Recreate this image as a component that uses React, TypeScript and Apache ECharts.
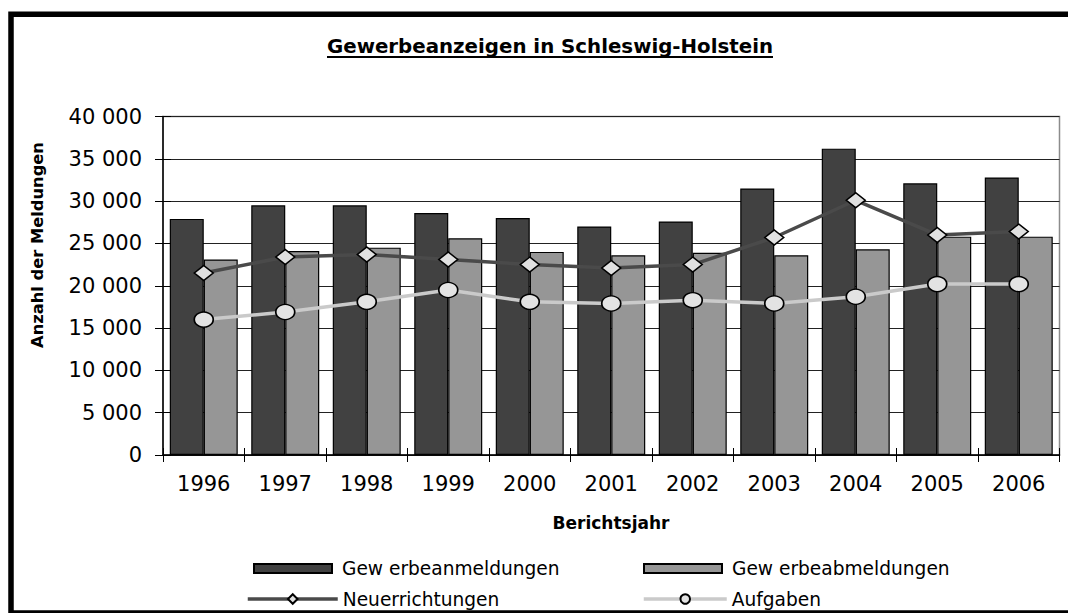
import React, { useEffect, useRef } from "react";
import * as echarts from "echarts";

const years = ["1996", "1997", "1998", "1999", "2000", "2001", "2002", "2003", "2004", "2005", "2006"];
const anmeldungen = [27900, 29500, 29500, 28600, 28000, 27000, 27600, 31500, 36200, 32100, 32800];
const abmeldungen = [23100, 24100, 24500, 25600, 24000, 23600, 23900, 23600, 24300, 25800, 25800];
const neuerrichtungen = [21500, 23400, 23700, 23100, 22500, 22100, 22500, 25700, 30100, 26000, 26400];
const aufgaben = [16000, 16900, 18100, 19500, 18100, 17900, 18300, 17900, 18700, 20200, 20200];

const seriesNames = ["Gew erbeanmeldungen", "Gew erbeabmeldungen", "Neuerrichtungen", "Aufgaben"];
const titleText = "Gewerbeanzeigen in Schleswig-Holstein";
const yAxisTitle = "Anzahl der Meldungen";
const xAxisTitle = "Berichtsjahr";
const yMin = 0;
const yMax = 40000;
const yStep = 5000;

const FONT = "'DejaVu Sans', Arial, sans-serif";

function fmt(v: number): string {
  return String(v).replace(/\B(?=(\d{3})+(?!\d))/g, " ");
}

export default function App() {
  const ref = useRef<HTMLDivElement>(null);
  useEffect(() => {
    if (!ref.current) return;
    const chart = echarts.init(ref.current, undefined, { renderer: "svg" });
    const barLegendText = { fontFamily: FONT, fontSize: 18.6, color: "#000", lineHeight: 20, padding: [0, 0, 0, 5] };
    const lineLegendText = { fontFamily: FONT, fontSize: 18.6, color: "#000", lineHeight: 20 };
    const option: any = {
      animation: false,
      backgroundColor: "#fff",
      grid: {
        left: 163,
        right: 8.5,
        top: 116.5,
        bottom: 158,
        show: true,
        borderColor: "#8c8c8c",
        borderWidth: 1.5,
        backgroundColor: "transparent",
      },
      xAxis: [
        {
          type: "category",
          data: years,
          position: "bottom",
          axisLine: { show: true, lineStyle: { color: "#000", width: 1.5 } },
          axisTick: { show: true, inside: false, length: 7, lineStyle: { color: "#000" } },
          axisLabel: { fontFamily: FONT, fontSize: 21, color: "#000", margin: 18 },
          splitLine: { show: false },
        },
        {
          type: "category",
          data: years,
          position: "bottom",
          axisLine: { show: false },
          axisTick: { show: true, inside: true, length: 7, lineStyle: { color: "#000" } },
          axisLabel: { show: false },
          splitLine: { show: false },
        },
      ],
      yAxis: [
        {
          type: "value",
          min: yMin,
          max: yMax,
          interval: yStep,
          position: "left",
          axisLine: { show: true, lineStyle: { color: "#000", width: 1.5 } },
          axisTick: { show: true, inside: false, length: 8, lineStyle: { color: "#000" } },
          axisLabel: { fontFamily: FONT, fontSize: 21, color: "#000", margin: 21, formatter: (v: number) => fmt(v) },
          splitLine: { show: true, lineStyle: { color: "#222", width: 1 } },
        },
        {
          type: "value",
          min: yMin,
          max: yMax,
          interval: yStep,
          position: "left",
          axisLine: { show: false },
          axisTick: { show: true, inside: true, length: 8, lineStyle: { color: "#000" } },
          axisLabel: { show: false },
          splitLine: { show: false },
        },
      ],
      legend: [
        {
          data: [{ name: seriesNames[0], icon: "rect" }],
          left: 253, top: 558.5, padding: 0, itemWidth: 78, itemHeight: 9,
          textStyle: barLegendText,
        },
        {
          data: [{ name: seriesNames[1], icon: "rect" }],
          left: 643, top: 558.5, padding: 0, itemWidth: 78, itemHeight: 9,
          textStyle: barLegendText,
        },
        {
          data: [{ name: seriesNames[2] }],
          left: 246, top: 589, padding: 0, itemWidth: 90, itemHeight: 12,
          lineStyle: { width: 3.5 },
          textStyle: lineLegendText,
        },
        {
          data: [{ name: seriesNames[3] }],
          left: 642, top: 589, padding: 0, itemWidth: 83, itemHeight: 12,
          lineStyle: { width: 3.5 },
          textStyle: lineLegendText,
        },
      ],
      series: [
        {
          name: seriesNames[0],
          type: "bar",
          data: anmeldungen,
          barGap: "0%",
          barCategoryGap: "16.6%",
          itemStyle: { color: "#414141", borderColor: "#000", borderWidth: 1.2 },
        },
        {
          name: seriesNames[1],
          type: "bar",
          data: abmeldungen,
          barGap: "0%",
          barCategoryGap: "16.6%",
          itemStyle: { color: "#969696", borderColor: "#000", borderWidth: 1.2 },
        },
        {
          name: seriesNames[2],
          type: "line",
          data: neuerrichtungen,
          symbol: "diamond",
          symbolSize: [19, 15],
          lineStyle: { color: "#4a4a4a", width: 3.5 },
          itemStyle: { color: "#e0e0e0", borderColor: "#000", borderWidth: 1.5 },
          z: 3,
        },
        {
          name: seriesNames[3],
          type: "line",
          data: aufgaben,
          symbol: "circle",
          symbolSize: [19, 15],
          lineStyle: { color: "#cacaca", width: 3.5 },
          itemStyle: { color: "#e3e3e3", borderColor: "#000", borderWidth: 1.5 },
          z: 4,
        },
      ],
      graphic: [
        {
          type: "rect",
          shape: { x: 11, y: 14.2, width: 1100, height: 598.8 },
          style: { fill: "none", stroke: "#000", lineWidth: 5.5 },
          silent: true,
        },
        {
          type: "text",
          x: 550,
          y: 46,
          style: {
            text: titleText, x: 0, y: 0,
            fontFamily: FONT, fontSize: 19.8, fontWeight: "bold", fill: "#000",
            align: "center", verticalAlign: "middle", textAlign: "center", textVerticalAlign: "middle",
          },
        },
        {
          type: "line",
          shape: { x1: 327, y1: 57, x2: 773, y2: 57 },
          style: { stroke: "#000", lineWidth: 2 },
        },
        {
          type: "text",
          x: 37,
          y: 245,
          rotation: Math.PI / 2,
          style: {
            text: yAxisTitle, x: 0, y: 0,
            fontFamily: FONT, fontSize: 16.3, fontWeight: "bold", fill: "#000",
            align: "center", verticalAlign: "middle", textAlign: "center", textVerticalAlign: "middle",
          },
        },
        {
          type: "text",
          x: 611,
          y: 523,
          style: {
            text: xAxisTitle, x: 0, y: 0,
            fontFamily: FONT, fontSize: 17, fontWeight: "bold", fill: "#000",
            align: "center", verticalAlign: "middle", textAlign: "center", textVerticalAlign: "middle",
          },
        },
      ],
    };
    chart.setOption(option);
    return () => chart.dispose();
  }, []);
  return (
    <div
      ref={ref}
      style={{ position: "absolute", left: 0, top: 0, width: 1068, height: 613, background: "#fff" }}
    />
  );
}
